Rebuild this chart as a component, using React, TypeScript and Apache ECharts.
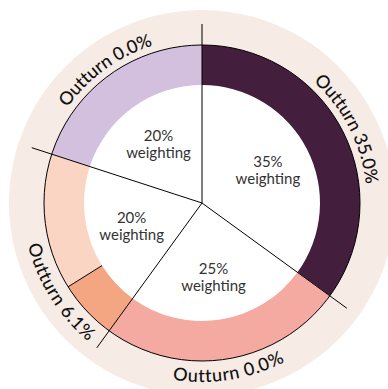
import React, { useEffect, useRef } from 'react';
import * as echarts from 'echarts';

// ---- data ----
const categories = ['Measure A', 'Measure B', 'Measure C', 'Measure D'];
const weightings = [35, 25, 20, 20];
const outturns = [35.0, 0.0, 6.1, 0.0];

// ---- styles ----
const filledColors = ['#431e3d', '#ee8c84', '#f4a582', '#a98cc4'];
const restColors = ['#6b3a63', '#f4a9a1', '#fad5c4', '#d2c0de'];
const CX = 202;
const CY = 203;
const R_BG = 193;
const R_OUT = 158;
const R_IN = 118;
const R_LINE = 179;
const R_TEXT = 172;
const FONT = 'Lato, "Noto Sans", sans-serif';
const OUT_FONT_SIZE = 18;
const OUT_SPACING = 0.3;

let measureCtx: CanvasRenderingContext2D | null = null;
function measure(ch: string, font: string): number {
  if (!measureCtx) measureCtx = document.createElement('canvas').getContext('2d');
  measureCtx!.font = font;
  return measureCtx!.measureText(ch).width;
}

function arcText(text: string, centerDeg: number, r: number): any[] {
  const font = `500 ${OUT_FONT_SIZE}px ${FONT}`;
  const chars = Array.from(text);
  const widths = chars.map((ch) => measure(ch, font));
  const total = widths.reduce((a, b) => a + b, 0) + OUT_SPACING * (chars.length - 1);
  const span = total / r;
  const c = (centerDeg * Math.PI) / 180;
  const norm = ((centerDeg % 360) + 360) % 360;
  const flip = norm > 90 && norm < 270;
  const els: any[] = [];
  let cum = 0;
  chars.forEach((ch, i) => {
    const off = (cum + widths[i] / 2) / r;
    const a = flip ? c + span / 2 - off : c - span / 2 + off;
    cum += widths[i] + OUT_SPACING;
    els.push({
      type: 'text',
      x: CX + r * Math.sin(a),
      y: CY - r * Math.cos(a),
      rotation: flip ? Math.PI - a : -a,
      z: 20,
      silent: true,
      style: {
        text: ch,
        fill: '#111111',
        fontSize: OUT_FONT_SIZE,
        fontWeight: 500,
        fontFamily: FONT,
        align: 'center',
        verticalAlign: 'middle',
      },
    });
  });
  return els;
}

function polar(angleDeg: number, r: number): [number, number] {
  const a = (angleDeg * Math.PI) / 180;
  return [CX + r * Math.sin(a), CY - r * Math.cos(a)];
}

export default function App() {
  const ref = useRef<HTMLDivElement>(null);
  useEffect(() => {
    if (!ref.current) return;
    const chart = echarts.init(ref.current, undefined, { renderer: 'svg' });
    const total = weightings.reduce((a, b) => a + b, 0);

    const ringData: any[] = [];
    const graphics: any[] = [];
    graphics.push({
      type: 'circle',
      z: 0,
      silent: true,
      shape: { cx: CX, cy: CY, r: R_BG },
      style: { fill: '#f6ebe5' },
    });
    graphics.push({
      type: 'circle',
      z: 1,
      silent: true,
      shape: { cx: CX, cy: CY, r: R_IN + 1 },
      style: { fill: '#ffffff' },
    });
    graphics.push({
      type: 'circle',
      z: 10,
      silent: true,
      shape: { cx: CX, cy: CY, r: R_OUT },
      style: { fill: 'none', stroke: '#000', lineWidth: 1 },
    });

    let cum = 0;
    categories.forEach((cat, i) => {
      const w = weightings[i];
      const o = outturns[i];
      const startDeg = (cum / total) * 360;
      const endDeg = ((cum + w) / total) * 360;
      if (o > 0) ringData.push({ name: cat + ' outturn', value: o, itemStyle: { color: filledColors[i] } });
      const rest = +(w - o).toFixed(4);
      if (rest > 0) ringData.push({ name: cat + ' remaining', value: rest, itemStyle: { color: restColors[i] } });
      const [x2, y2] = polar(startDeg, R_LINE);
      graphics.push({
        type: 'line', z: 10, silent: true,
        shape: { x1: CX, y1: CY, x2, y2 },
        style: { stroke: '#000', lineWidth: 1 },
      });
      let labelDeg = (startDeg + endDeg) / 2;
      if (o > 0 && o < w) {
        const fillDeg = ((cum + o) / total) * 360;
        const [a1, b1] = polar(fillDeg, R_IN);
        const [a2, b2] = polar(fillDeg, R_OUT);
        graphics.push({
          type: 'line', z: 10, silent: true,
          shape: { x1: a1, y1: b1, x2: a2, y2: b2 },
          style: { stroke: '#000', lineWidth: 1 },
        });
        labelDeg = fillDeg;
      }
      graphics.push(...arcText(`Outturn ${o.toFixed(1)}%`, labelDeg, R_TEXT));
      cum += w;
    });

    chart.setOption({
      animation: false,
      graphic: { elements: graphics },
      series: [
        {
          type: 'pie',
          silent: true,
          z: 2,
          center: [CX, CY],
          radius: [R_IN, R_OUT],
          startAngle: 90,
          clockwise: true,
          label: { show: false },
          labelLine: { show: false },
          emphasis: { disabled: true },
          data: ringData,
        },
        {
          type: 'pie',
          silent: true,
          z: 3,
          center: [CX, CY],
          radius: [30, 112],
          startAngle: 90,
          clockwise: true,
          itemStyle: { color: 'rgba(0,0,0,0)' },
          label: {
            show: true,
            position: 'inside',
            rotate: 0,
            formatter: (p: any) => `${weightings[p.dataIndex]}%\nweighting`,
            color: '#333333',
            fontSize: 15,
            lineHeight: 17,
            fontFamily: FONT,
          },
          labelLine: { show: false },
          emphasis: { disabled: true },
          data: categories.map((c, i) => ({ name: c, value: weightings[i] })),
        },
      ],
    });
    return () => chart.dispose();
  }, []);
  return (
    <div
      ref={ref}
      style={{ position: 'fixed', left: 0, top: 0, width: 388, height: 389, background: '#ffffff' }}
    />
  );
}
